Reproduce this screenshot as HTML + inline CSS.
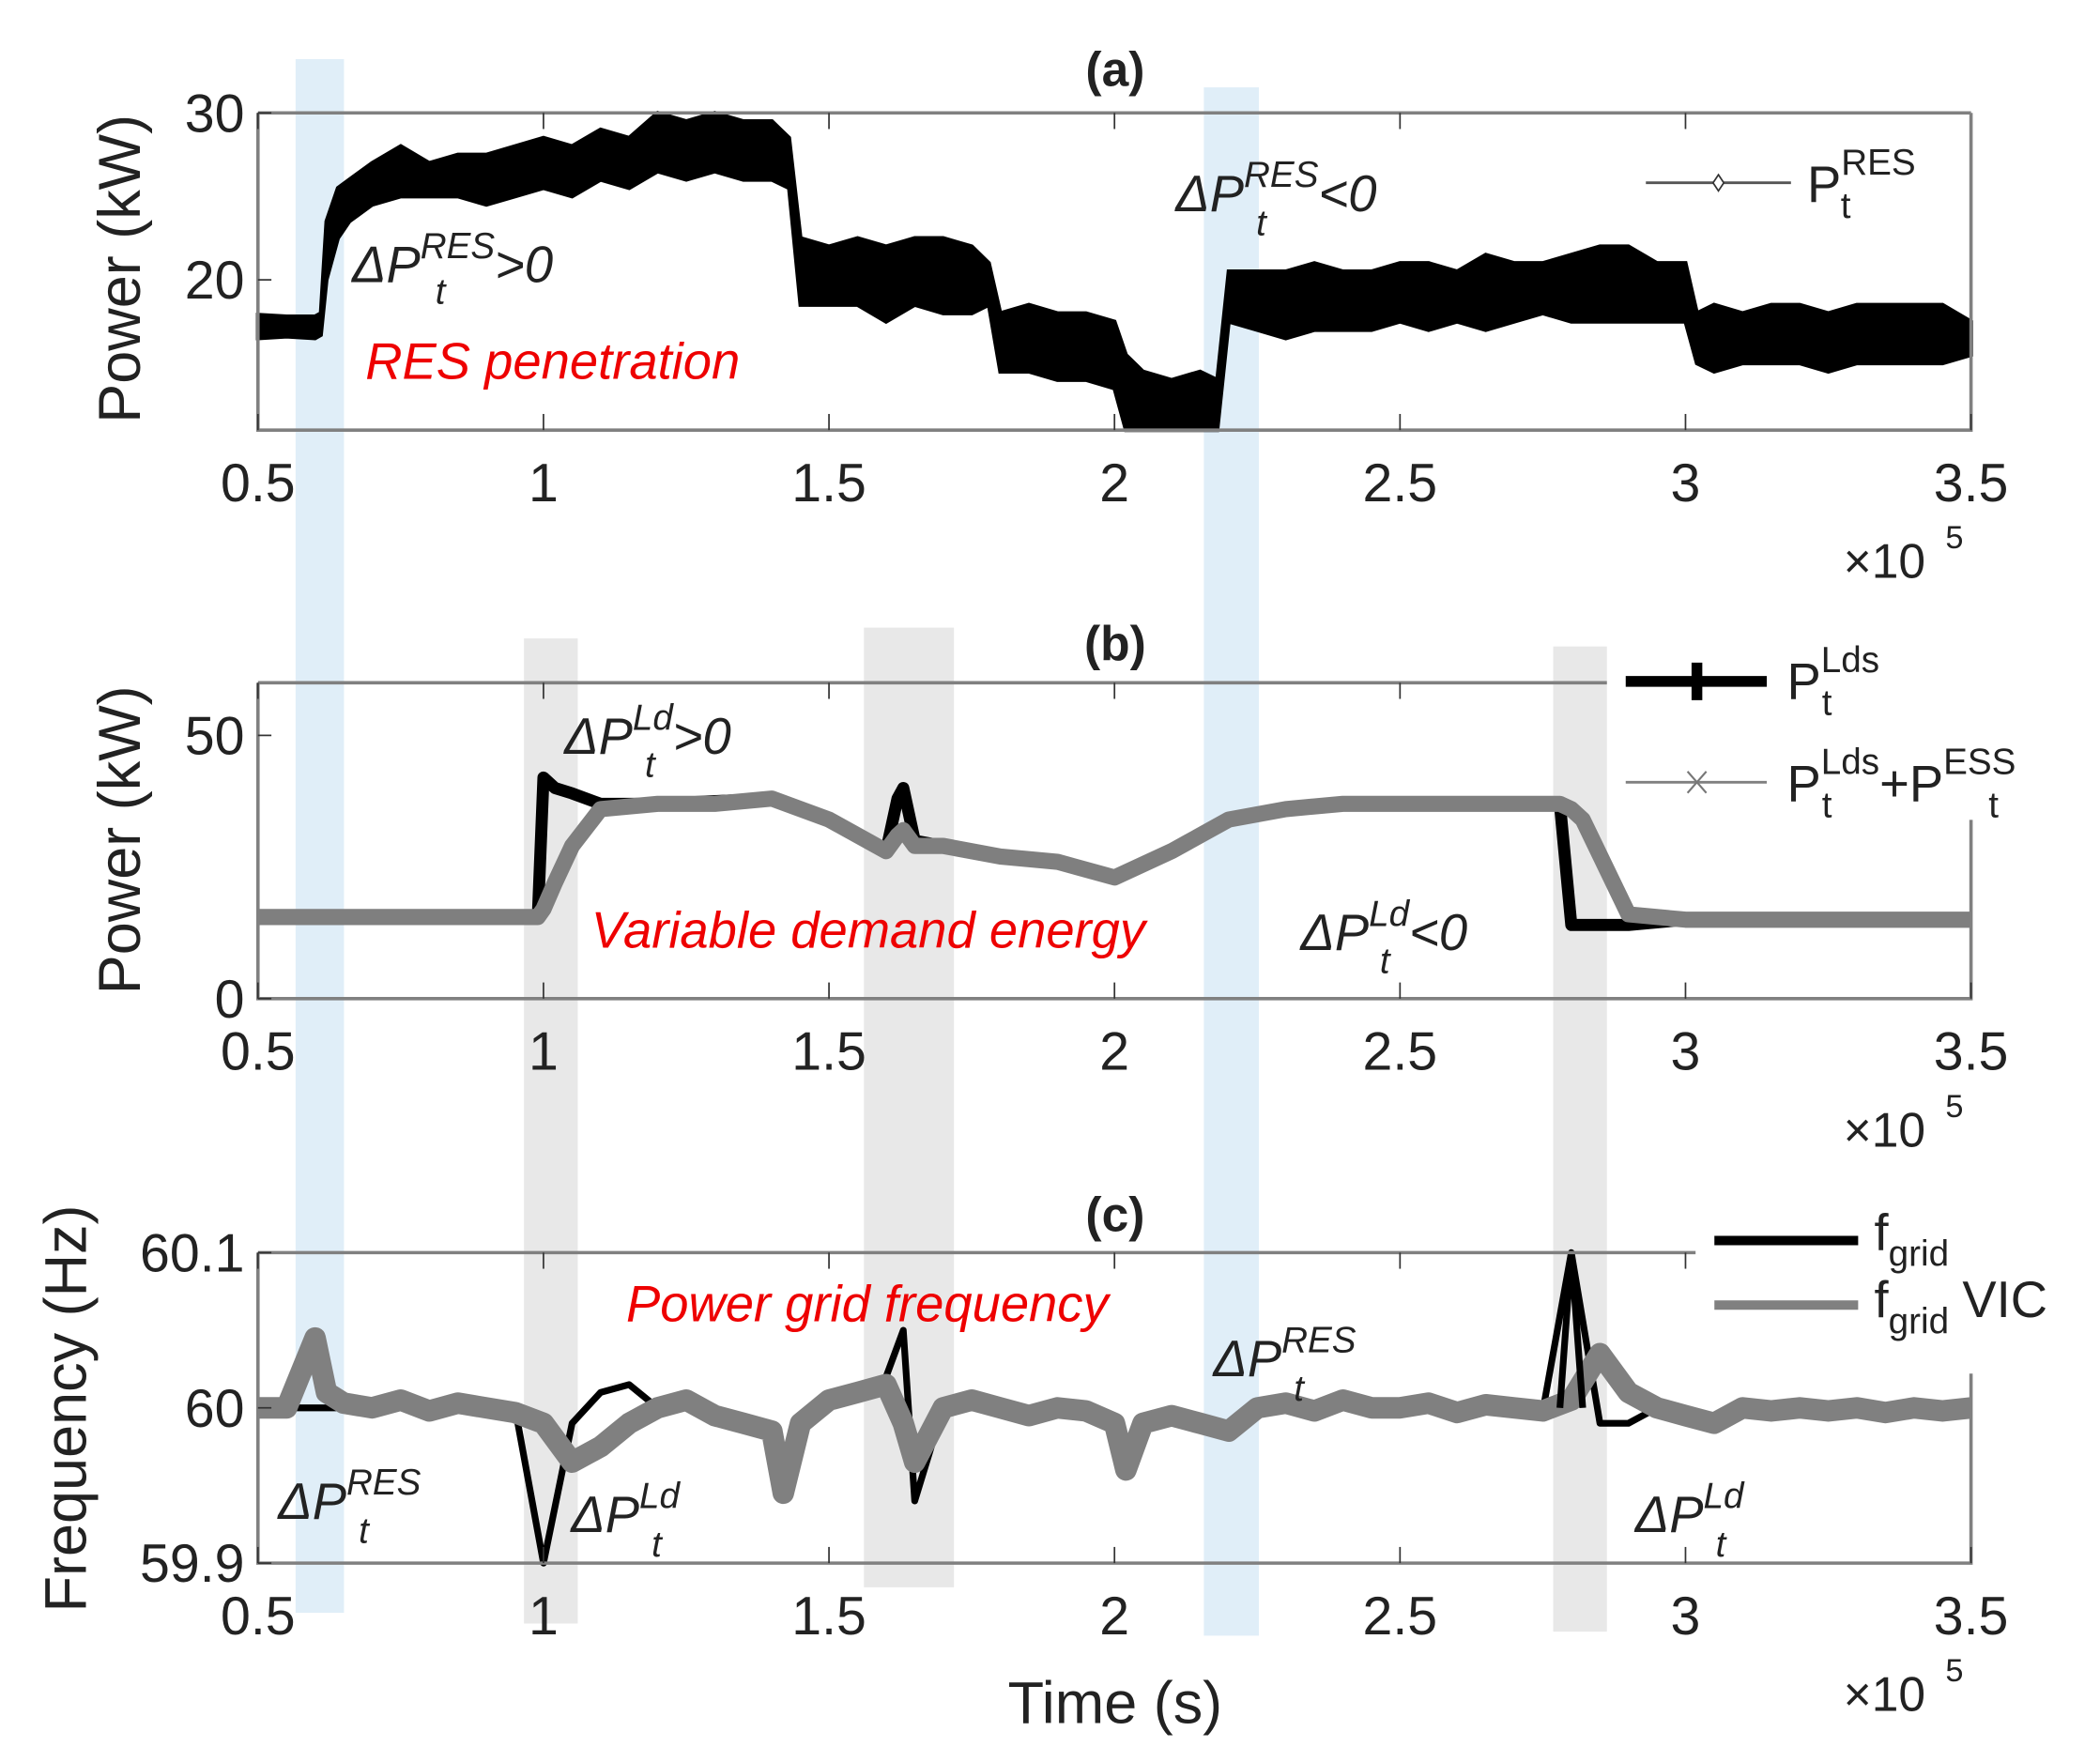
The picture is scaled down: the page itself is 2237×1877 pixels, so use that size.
<!DOCTYPE html>
<html><head><meta charset="utf-8"><style>
html,body{margin:0;padding:0;background:#fff;}
svg{display:block;font-family:"Liberation Sans",sans-serif;}
</style></head><body>
<svg id="chart" width="2237" height="1877" viewBox="0 0 1563 1311" preserveAspectRatio="none" xmlns="http://www.w3.org/2000/svg">
<g id="bands"></g>
<g id="pa"></g>
<g id="pb"></g>
<g id="pc"></g>
</svg>
<script>
// shared x domain (x10^5 s)
const xTicks = [0.5, 1, 1.5, 2, 2.5, 3, 3.5];
const xTickLabels = ["0.5", "1", "1.5", "2", "2.5", "3", "3.5"];
// Panel (a) RES power envelope
const resT = [0.5,0.55,0.6,0.61,0.62,0.64,0.66,0.7,0.75,0.8,0.85,0.9,0.95,1.0,1.05,1.1,1.15,1.2,1.25,1.3,1.35,1.4,1.43,1.45,1.5,1.55,1.6,1.65,1.7,1.75,1.78,1.8,1.85,1.9,1.95,2.0,2.02,2.05,2.1,2.15,2.18,2.2,2.25,2.3,2.35,2.4,2.45,2.5,2.55,2.6,2.65,2.7,2.75,2.8,2.85,2.9,2.95,3.0,3.02,3.05,3.1,3.15,3.2,3.25,3.3,3.35,3.4,3.45,3.5];
const resHi = [17.9,17.8,17.8,18,23.5,25.5,26,27,28,27,27.5,27.5,28,28.5,28,29,28.5,30,29.5,30,29.5,29.5,28.5,22.5,22,22.5,22,22.5,22.5,22,21,18,18.5,18,18,17.5,15.5,14.5,14,14.5,14,20.5,20.5,20.5,21,20.5,20.5,21,21,20.5,21.5,21,21,21.5,22,22,21,21,18,18.5,18,18.5,18.5,18,18.5,18.5,18.5,18.5,17.5];
const resLo = [16.5,16.6,16.5,16.7,20,22.5,23.5,24.5,25,25,25,24.5,25,25.5,25,26,25.5,26.5,26,26.5,26,26,25.5,18.5,18.5,18.5,17.5,18.5,18,18,18.5,14.5,14.5,14,14,13.5,11,11,11,11,11,17.5,17,16.5,17,17,17,17.5,17,17.5,17,17.5,18,17.5,17.5,17.5,17.5,17.5,15,14.5,15,15,15,14.5,15,15,15,15,15.5];
const aTicksY = [20, 30];
// Panel (b) loads
const ldT = [0.5,0.6,0.7,0.8,0.9,0.99,1.0,1.02,1.05,1.1,1.2,1.3,1.4,1.5,1.6,1.62,1.63,1.65,1.7,1.8,1.9,2.0,2.1,2.2,2.3,2.4,2.5,2.6,2.7,2.78,2.8,2.82,2.9,3.0,3.1,3.2,3.3,3.4,3.5];
const ldBlack = [15.5,15.5,15.5,15.5,15.5,15.5,42,40,39,37,37,37.5,38,34,28,38,40,30,29,27,26,23,28,34,36,37,37,37,37,37,14,14,14,15,15,15,15,15,15];
const ldGray  = [15.5,15.5,15.5,15.5,15.5,15.5,17,22,29,36,37,37,38,34,28,31,32,29,29,27,26,23,28,34,36,37,37,37,37,37,36,34,16,15,15,15,15,15,15];
const bTicksY = [0, 50];
// Panel (c) frequency
const fT = [0.5,0.55,0.6,0.62,0.65,0.7,0.75,0.8,0.85,0.9,0.95,1.0,1.05,1.1,1.15,1.2,1.25,1.3,1.35,1.4,1.42,1.45,1.5,1.55,1.6,1.63,1.65,1.7,1.75,1.8,1.85,1.9,1.95,2.0,2.02,2.05,2.1,2.15,2.2,2.25,2.3,2.35,2.4,2.45,2.5,2.55,2.6,2.65,2.7,2.75,2.8,2.85,2.9,2.95,3.0,3.05,3.1,3.15,3.2,3.25,3.3,3.35,3.4,3.45,3.5];
const fGray  = [60.0,60.0,60.045,60.01,60.003,60.0,60.005,59.998,60.003,60.0,59.997,59.99,59.965,59.975,59.99,60.0,60.005,59.995,59.99,59.985,59.945,59.99,60.005,60.01,60.015,59.99,59.965,60.0,60.005,60.0,59.995,60.0,59.998,59.99,59.96,59.99,59.995,59.99,59.985,60.0,60.003,59.998,60.005,60.0,60.0,60.003,59.997,60.002,60.0,59.998,60.005,60.035,60.01,60.0,59.995,59.99,60.0,59.998,60.0,59.998,60.0,59.997,60.0,59.998,60.0];
const fBlack = [60.0,60.0,60.0,60.0,60.0,60.0,60.0,60.0,60.0,60.0,60.0,59.9,59.99,60.01,60.015,60.0,60.0,59.995,59.99,59.985,59.955,59.99,60.0,60.01,60.02,60.05,59.94,60.0,60.0,60.0,59.995,60.0,59.998,59.99,59.97,59.99,59.995,59.99,59.985,60.0,60.0,59.998,60.0,60.0,60.0,60.0,59.997,60.0,60.0,59.998,60.1,59.99,59.99,60.0,59.995,59.99,60.0,59.998,60.0,59.998,60.0,59.997,60.0,59.998,60.0];
const cTicksY = [59.9, 60, 60.1];

const NS = "http://www.w3.org/2000/svg";
function mk(tag, attrs, parent, text){
  const e = document.createElementNS(NS, tag);
  for (const k in attrs) e.setAttribute(k, attrs[k]);
  if (text !== undefined) e.textContent = text;
  parent.appendChild(e); return e;
}
const X0 = 192, X1 = 1467;
function xs(v){ return X0 + (v - 0.5) / 3.0 * (X1 - X0); }
function ysF(top, bot, lo, hi){ return v => bot - (v - lo) / (hi - lo) * (bot - top); }

const bandsG = document.getElementById('bands');
const bandDefs = [[220,256,44,1200,'#e0eef8'],[896,937,65,1217,'#e0eef8'],[390,430,475,1208,'#e8e8e8'],[643,710,467,1181,'#e8e8e8'],[1156,1196,481,1214,'#e8e8e8']];
bandDefs.forEach((b,i)=>{
  const r = mk('rect',{x:b[0],y:b[2],width:b[1]-b[0],height:b[3]-b[2],fill:b[4]},bandsG);
  
  
});

function axes(g, top, bot, ys, yTicks, yLabels, topEnd, name){
  const box = mk('path',{d:`M${X0},${top} H${topEnd} M${X1},${top+ (topEnd<X1?90:0)} V${bot} H${X0} V${top}`,fill:'none',stroke:'#808080','stroke-width':2.5},g);
  
  
  xTicks.forEach((t,i)=>{
    const x = xs(t);
    mk('line',{x1:x,y1:bot,x2:x,y2:bot-12,stroke:'#333','stroke-width':1.2},g);
    if (x < topEnd) mk('line',{x1:x,y1:top,x2:x,y2:top+12,stroke:'#333','stroke-width':1.2},g);
    const tl = mk('text',{x:x,y:bot+53,'font-size':40,'text-anchor':'middle',fill:'#222'},g,xTickLabels[i]);
    
    
  });
  yTicks.forEach((t,i)=>{
    const y = ys(t);
    mk('line',{x1:X0,y1:y,x2:X0+10,y2:y,stroke:'#333','stroke-width':1.2},g);
    const tl = mk('text',{x:X0-10,y:y+14,'font-size':40,'text-anchor':'end',fill:'#222'},g,yLabels[i]);
    
    
  });
  const ex = mk('text',{x:1372,y:bot+110,'font-size':36,fill:'#222'},g,'\u00d710');
  
  
  mk('text',{x:1448,y:bot+88,'font-size':24,fill:'#222'},g,'5');
}
function linePath(T, V, ys){ return T.map((t,i)=>(i?'L':'M')+xs(t).toFixed(1)+','+ys(V[i]).toFixed(1)).join(' '); }

// Panel a
const pa = document.getElementById('pa');
const ysA = ysF(84, 320, 11, 30);
let d = resT.map((t,i)=>(i?'L':'M')+xs(t).toFixed(1)+','+ysA(resHi[i]).toFixed(1)).join(' ');
for (let i = resT.length-1; i >= 0; i--) d += ' L'+xs(resT[i]).toFixed(1)+','+ysA(resLo[i]).toFixed(1);
const envA = mk('path',{d:d+' Z',fill:'#000',stroke:'#000','stroke-width':3,'stroke-linejoin':'miter'},pa);


axes(pa, 84, 320, ysA, aTicksY, ["20","30"], X1, 'panel-a');

// Panel b
const pb = document.getElementById('pb');
const ysB = ysF(508, 743, 0, 60);
const lb = mk('path',{d:linePath(ldT, ldBlack, ysB),fill:'none',stroke:'#000','stroke-width':9,'stroke-linejoin':'round'},pb);


const lg = mk('path',{d:linePath(ldT, ldGray, ysB),fill:'none',stroke:'#7f7f7f','stroke-width':12,'stroke-linejoin':'round'},pb);


axes(pb, 508, 743, ysB, bTicksY, ["0","50"], 1196, 'panel-b');

// Panel c
const pc = document.getElementById('pc');
const ysC = ysF(932, 1163, 59.9, 60.1);
const fb = mk('path',{d:linePath(fT, fBlack, ysC),fill:'none',stroke:'#000','stroke-width':5,'stroke-linejoin':'round'},pc);


const fg = mk('path',{d:linePath(fT, fGray, ysC),fill:'none',stroke:'#808080','stroke-width':16,'stroke-linejoin':'round'},pc);


const spike = mk('path',{d:linePath([2.78,2.8,2.82],[60.0,60.1,60.0], ysC),fill:'none',stroke:'#000','stroke-width':5},pc);


axes(pc, 932, 1163, ysC, cTicksY, ["59.9","60","60.1"], 1262, 'panel-c');
</script>
<svg style="position:absolute;left:0;top:0" width="2237" height="1877" viewBox="0 0 1563 1311" preserveAspectRatio="none" xmlns="http://www.w3.org/2000/svg" font-family="Liberation Sans, sans-serif">
<text x="830" y="64" font-size="36" font-weight="bold" text-anchor="middle" fill="#222">(a)</text>
<text x="830" y="491" font-size="36" font-weight="bold" text-anchor="middle" fill="#222">(b)</text>
<text x="830" y="916" font-size="36" font-weight="bold" text-anchor="middle" fill="#222">(c)</text>
<text transform="translate(104,200) rotate(-90)" font-size="44" text-anchor="middle" fill="#222">Power (kW)</text>
<text transform="translate(104,625) rotate(-90)" font-size="44" text-anchor="middle" fill="#222">Power (kW)</text>
<text transform="translate(64,1048) rotate(-90)" font-size="44" text-anchor="middle" fill="#222">Frequency (Hz)</text>
<text x="830" y="1282" font-size="44" text-anchor="middle" fill="#222">Time (s)</text>

<text x="272" y="282" font-size="38" font-style="italic" fill="#e00">RES penetration</text>
<text x="440" y="705" font-size="38" font-style="italic" fill="#e00">Variable demand energy</text>
<text x="466" y="983" font-size="38" font-style="italic" fill="#e00">Power grid frequency</text>

<g font-style="italic" fill="#222">
<text x="262" y="210" font-size="38">ΔP<tspan dy="-18" font-size="27">RES</tspan><tspan dy="18">&gt;0</tspan></text>
<text x="324" y="226" font-size="27">t</text>
<text x="875" y="157" font-size="38">ΔP<tspan dy="-18" font-size="27">RES</tspan><tspan dy="18">&lt;0</tspan></text>
<text x="935" y="175" font-size="27">t</text>
<text x="420" y="561" font-size="38">ΔP<tspan dy="-18" font-size="27">Ld</tspan><tspan dy="18">&gt;0</tspan></text>
<text x="480" y="578" font-size="27">t</text>
<text x="968" y="707" font-size="38">ΔP<tspan dy="-18" font-size="27">Ld</tspan><tspan dy="18">&lt;0</tspan></text>
<text x="1027" y="724" font-size="27">t</text>
<text x="207" y="1130" font-size="38">ΔP<tspan dy="-18" font-size="27">RES</tspan></text>
<text x="267" y="1148" font-size="27">t</text>
<text x="425" y="1140" font-size="38">ΔP<tspan dy="-18" font-size="27">Ld</tspan></text>
<text x="485" y="1158" font-size="27">t</text>
<text x="903" y="1024" font-size="38">ΔP<tspan dy="-18" font-size="27">RES</tspan></text>
<text x="963" y="1042" font-size="27">t</text>
<text x="1217" y="1140" font-size="38">ΔP<tspan dy="-18" font-size="27">Ld</tspan></text>
<text x="1277" y="1158" font-size="27">t</text>
</g>

<g fill="#222">
<line x1="1225" y1="136" x2="1333" y2="136" stroke="#555" stroke-width="2"/>
<path d="M1279,130 L1283,136 L1279,142 L1275,136 Z" fill="#fff" stroke="#333" stroke-width="1.2"/>
<text x="1345" y="150" font-size="38">P<tspan dy="-20" font-size="27">RES</tspan></text>
<text x="1370" y="162" font-size="27">t</text>
</g>
<g fill="#222">
<rect x="1198" y="470" width="340" height="140" fill="#fff"/>
<line x1="1210" y1="507" x2="1315" y2="507" stroke="#000" stroke-width="8"/>
<line x1="1263" y1="493" x2="1263" y2="521" stroke="#000" stroke-width="8"/>
<text x="1330" y="520" font-size="38">P<tspan dy="-20" font-size="27">Lds</tspan></text>
<text x="1356" y="532" font-size="27">t</text>
<line x1="1210" y1="582" x2="1315" y2="582" stroke="#808080" stroke-width="2"/>
<path d="M1256,574 L1270,590 M1270,574 L1256,590" stroke="#777" stroke-width="1.5"/>
<text x="1330" y="596" font-size="38">P<tspan dy="-20" font-size="27">Lds</tspan><tspan dy="20">+P</tspan><tspan dy="-20" font-size="27">ESS</tspan></text>
<text x="1356" y="608" font-size="27">t</text>
<text x="1480" y="608" font-size="27">t</text>
</g>
<g fill="#222">
<rect x="1264" y="900" width="290" height="95" fill="#fff"/>
<line x1="1276" y1="923" x2="1383" y2="923" stroke="#000" stroke-width="7"/>
<text x="1395" y="930" font-size="38">f<tspan dy="12" font-size="27">grid</tspan></text>
<line x1="1276" y1="971" x2="1383" y2="971" stroke="#808080" stroke-width="7"/>
<text x="1395" y="980" font-size="38">f<tspan dy="12" font-size="27">grid</tspan><tspan dy="-12" dx="10">VIC</tspan></text>
</g>
</svg>
</body></html>
